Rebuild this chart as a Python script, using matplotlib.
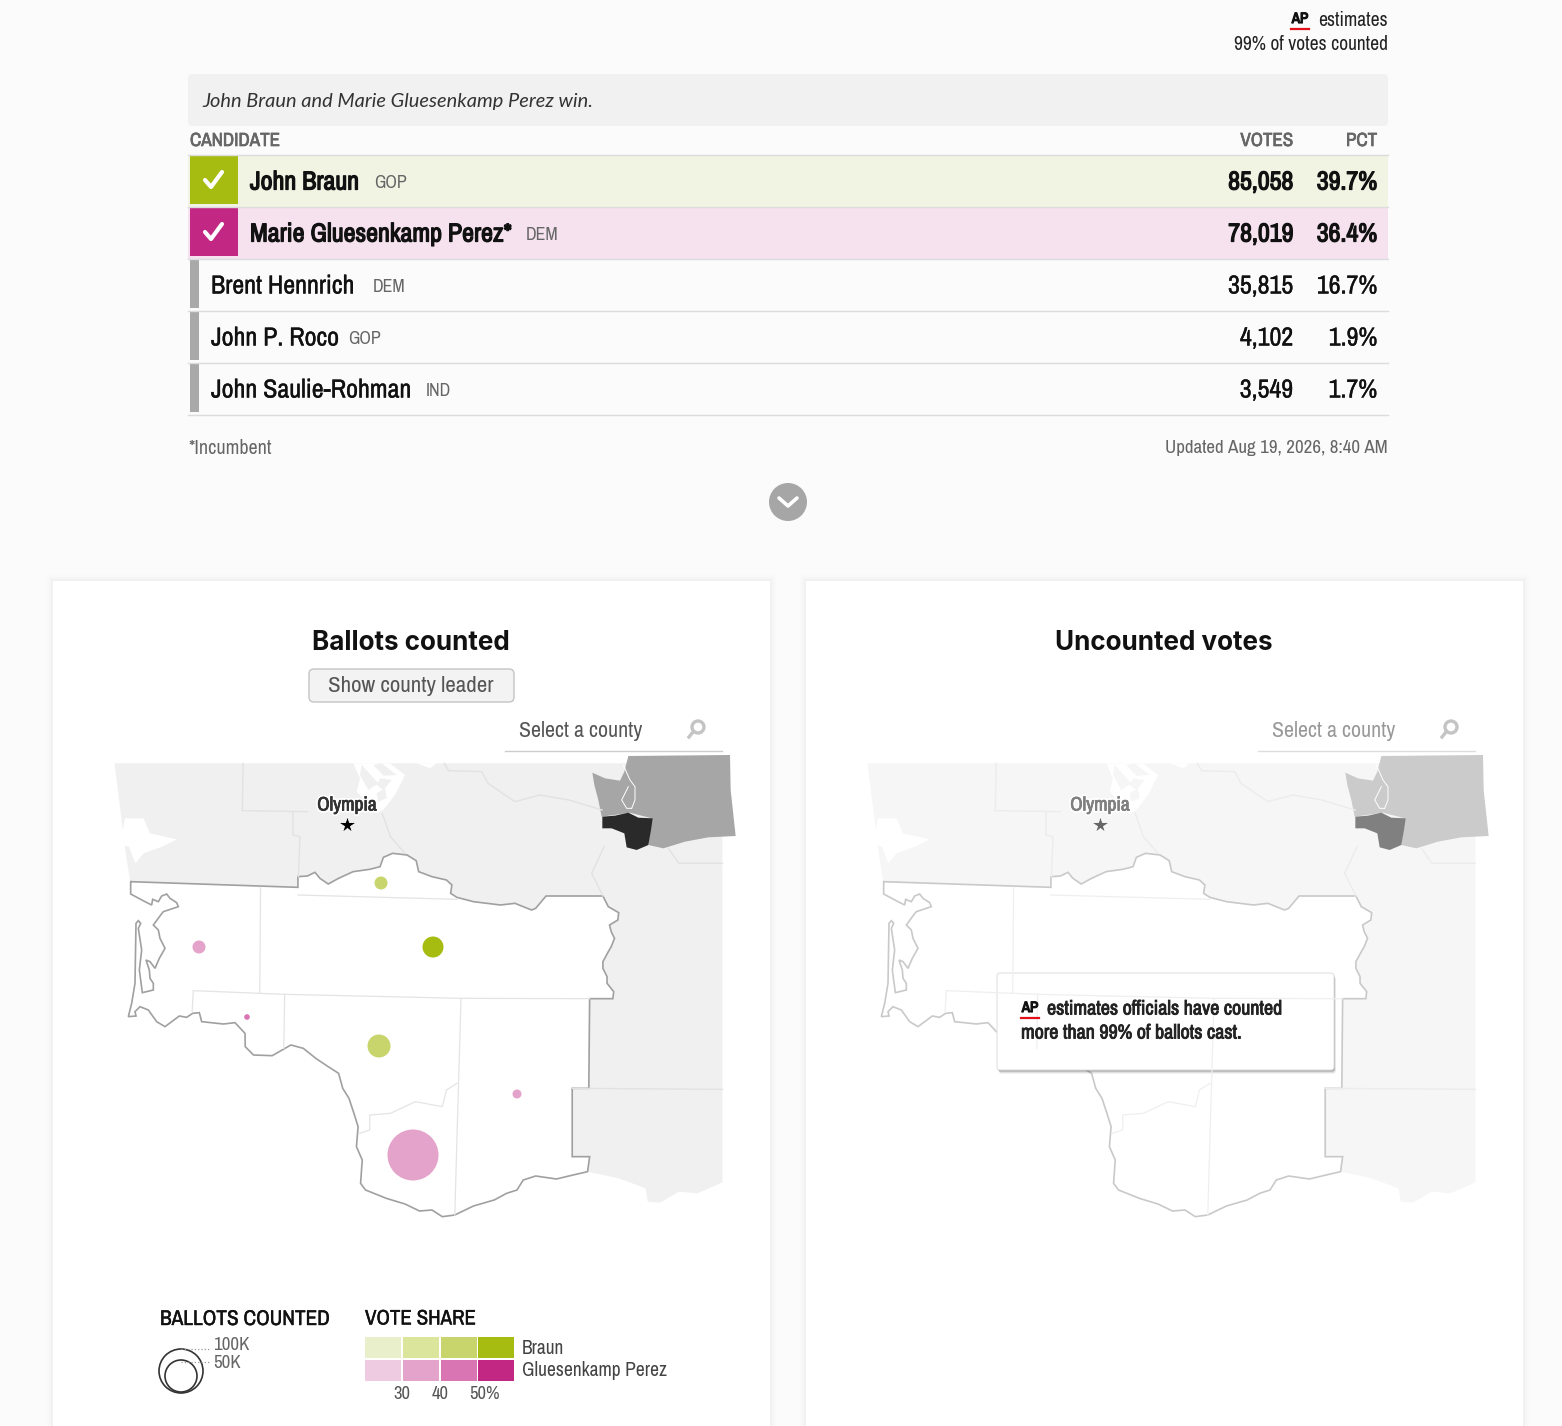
import matplotlib
matplotlib.use('Agg')
import matplotlib.pyplot as plt
import matplotlib.patheffects as pe
from matplotlib.patches import Rectangle, FancyBboxPatch, Polygon, Circle

NARROW = ['Archivo Narrow', 'Roboto Condensed', 'Liberation Sans Narrow', 'Roboto', 'DejaVu Sans']

# results table
candidates = ['John Braun', 'Marie Gluesenkamp Perez*', 'Brent Hennrich', 'John P. Roco', 'John Saulie-Rohman']
parties = ['GOP', 'DEM', 'DEM', 'GOP', 'IND']
votes = ['85,058', '78,019', '35,815', '4,102', '3,549']
pcts = ['39.7%', '36.4%', '16.7%', '1.9%', '1.7%']
party_x = [374, 526, 373, 348, 426]
row_fill = ['#f1f4e3', '#f6e2ef', 'none', 'none', 'none']
row_mark = ['#a6bc10', '#c22783', '#a9a9a9', '#a9a9a9', '#a9a9a9']

# bubbles on the county map
bubble_x = [381, 433, 199, 247, 379, 517, 413]
bubble_y = [883, 947, 947, 1017, 1046, 1094, 1155]
bubble_r = [6.5, 10.5, 6.5, 2.8, 11.5, 4.5, 25.5]
bubble_c = ['#c8d56c', '#a6bc10', '#e4a3ca', '#d975b2', '#c8d56c', '#e4a3ca', '#e4a3ca']

# legend
share_labels = ['30', '40', '50%']
braun_scale = ['#e8efca', '#dbe59c', '#c8d56c', '#a6bc10']
perez_scale = ['#efcbe2', '#e4a3ca', '#d975b2', '#c22783']

state_area = [(35, 40), (1500, 40), (1500, 1297), (1440, 1330), (1395, 1325), (1350, 1358), (1320, 1355), (1315, 1315),
              (1250, 1285), (1175, 1265), (700, 700), (73, 395), (62, 310), (48, 170)]
district_east = [(73, 395), (477, 412), (477, 380), (500, 378), (518, 367), (530, 385), (550, 402), (575, 385), (610, 365),
                 (650, 358), (675, 350), (683, 322), (705, 310), (740, 315), (762, 332), (768, 365), (800, 380), (835, 390),
                 (848, 405), (845, 430), (860, 442), (900, 455), (965, 465), (1000, 460), (1040, 480), (1050, 475),
                 (1075, 438), (1212, 438), (1225, 470), (1250, 488), (1248, 510), (1228, 525), (1232, 545), (1240, 565),
                 (1232, 590), (1225, 605), (1212, 635), (1212, 655), (1222, 680), (1222, 700), (1238, 725), (1236, 746),
                 (1180, 746), (1178, 1015), (1138, 1015), (1138, 1220), (1180, 1220), (1175, 1265), (1140, 1275), (1100, 1287),
                 (1050, 1278), (1020, 1290), (1005, 1320), (980, 1330), (950, 1350), (900, 1368), (855, 1395), (825, 1400),
                 (800, 1380), (770, 1383), (735, 1362), (690, 1345), (640, 1320), (628, 1300), (632, 1230), (618, 1190),
                 (622, 1130), (612, 1090), (600, 1045), (585, 1015), (575, 970), (550, 950), (520, 925), (490, 895), (460, 885),
                 (415, 917), (370, 915), (350, 890)]
district_west = [(375, 490), (345, 458), (310, 462), (245, 455), (238, 428), (218, 430), (200, 442), (178, 438), (135, 470),
                 (110, 455), (85, 420), (60, 410), (45, 425), (48, 438), (25, 440), (35, 400), (45, 340), (48, 160),
                 (55, 152), (62, 160), (55, 175), (65, 240), (58, 300), (67, 368), (100, 360), (100, 340), (90, 325),
                 (88, 300), (78, 270), (90, 275), (105, 295), (118, 265), (135, 235), (120, 205), (115, 180), (100, 165),
                 (122, 135), (130, 125), (175, 110), (170, 98), (150, 85), (140, 72), (125, 78), (115, 95), (98, 88),
                 (95, 105), (75, 95), (32, 72), (32, 35)]
inner_lines = [[(477, 435), (860, 448)], [(387, 412), (385, 730)], [(225, 722), (445, 733), (870, 745), (1180, 746)],
               [(225, 722), (222, 785)], [(445, 733), (443, 895)], [(870, 745), (855, 1395)],
               [(860, 1000), (835, 1020), (825, 1070), (760, 1055), (700, 1090), (650, 1095), (650, 1140), (625, 1150)]]
outer_lines = [[(345, 40), (343, 182), (500, 185)], [(465, 188), (465, 255), (482, 260), (478, 380)],
               [(680, 190), (700, 260), (735, 310)],
               [(830, 40), (840, 62), (920, 65), (935, 100), (1000, 155), (1060, 135), (1130, 150), (1210, 180)],
               [(1215, 290), (1185, 370), (1212, 438)], [(1370, 295), (1395, 340), (1500, 340)],
               [(1138, 1015), (1500, 1018)]]
bay = [(60, 205), (105, 205), (120, 250), (185, 268), (150, 290), (105, 310), (85, 340), (70, 290), (48, 285)]
sound = [(40, 25), (290, 25), (270, 40), (230, 25), (150, 25), (195, 60), (165, 120), (130, 165), (110, 175), (50, 110), (60, 70)]
sound_islands = [[(65, 30), (115, 85), (85, 105), (60, 60)], [(120, 70), (155, 75), (130, 105), (110, 90)],
                 [(110, 115), (135, 100), (140, 130), (115, 140)], [(125, 25), (170, 60), (130, 62), (100, 30)]]
inset_state = [(22, 68), (60, 85), (105, 92), (118, 65), (130, 18), (435, 15), (437, 120), (452, 258), (370, 262), (300, 275),
               (235, 295), (190, 285), (200, 205), (135, 188), (50, 200), (40, 150), (28, 105)]
inset_county = [(52, 200), (90, 197), (130, 188), (160, 203), (203, 205), (198, 240), (190, 285), (155, 300), (125, 292),
                (118, 250), (80, 235), (52, 235)]
inset_water = [[(115, 45), (135, 90), (150, 110), (150, 150), (140, 175)], [(130, 110), (110, 150), (125, 175), (140, 175)]]


def px(points, dx=0):
    # read on the big map crop, scaled 2.41 x 3
    return [(100 + x / 2.41 + dx, 750 + y / 3) for x, y in points]


def crop(points, x0, y0, dx=0):
    # read on a small crop, scaled 3 x 3
    return [(x0 + x / 3 + dx, y0 + y / 3) for x, y in points]


def txt(ax, x, y, s, size, color='#1a1a1a', ha='left', weight='normal', family=None, style='normal', heavy=0):
    # the narrow font has one weight only, so bold is a thin stroke of the same colour
    t = ax.text(x, y + 1, s, fontsize=size * 0.72, color=color, ha=ha, va='center', fontweight=weight,
                family=family or NARROW, fontstyle=style)
    if heavy:
        t.set_path_effects([pe.withStroke(linewidth=heavy, foreground=color)])
    return t


def ap_logo(ax, x, y):
    txt(ax, x, y - 1, 'AP', 15, '#111111', ha='center', heavy=0.9)
    ax.plot([x - 9, x + 9], [y + 10, y + 10], color='#e3101a', lw=1.6)


def search_box(ax, dx, color, line):
    txt(ax, 519 + dx, 730, 'Select a county', 22, color)
    ax.plot([505 + dx, 722 + dx], [751, 751], color=line, lw=1)
    ax.add_patch(Circle((698 + dx, 727), 6, fc='none', ec='#c4c4c4', lw=2.4))
    ax.plot([693 + dx, 689 + dx], [732, 737], color='#c4c4c4', lw=2.4)


def draw_map(ax, dx, faded):
    land = '#f6f6f6' if faded else '#f0f0f0'
    edge = '#c9c9c9' if faded else '#a0a0a0'
    thin = '#efefef' if faded else '#e4e4e4'
    ax.add_patch(Polygon(px(state_area, dx), fc=land, ec='none'))
    ax.add_patch(Polygon(px(bay, dx), fc='white', ec='none'))
    ax.add_patch(Polygon(crop(sound, 340, 755, dx), fc='white', ec='none'))
    for shape in sound_islands:
        ax.add_patch(Polygon(crop(shape, 340, 755, dx), fc=land, ec='none'))
    for line in outer_lines:
        ax.plot(*zip(*px(line, dx)), color='#ececec' if faded else '#e2e2e2', lw=1)
    outline = px(district_east, dx) + crop(district_west, 120, 870, dx)
    ax.add_patch(Polygon(outline, fc='white', ec=edge, lw=1.2))
    for line in inner_lines:
        ax.plot(*zip(*px(line, dx)), color=thin, lw=0.9)
    ax.add_patch(Polygon(crop(inset_state, 585, 750, dx), fc='#cbcbcb' if faded else '#a6a6a6', ec='none'))
    for line in inset_water:
        ax.plot(*zip(*crop(line, 585, 750, dx)), color='white', lw=0.7)
    ax.add_patch(Polygon(crop(inset_county, 585, 750, dx), fc='#808080' if faded else '#2a2a2a', ec='none'))
    label = txt(ax, 347 + dx, 804, 'Olympia', 19.5, '#808080' if faded else '#333333', ha='center')
    label.set_path_effects([pe.withStroke(linewidth=3, foreground='white'),
                            pe.withStroke(linewidth=0.5, foreground='#808080' if faded else '#333333')])
    ax.plot(347 + dx, 825, marker='*', ms=13, color='#666666' if faded else 'black', mec='white', mew=0.6)


fig = plt.figure(figsize=(15.62, 14.26), dpi=100, facecolor='#fbfbfb')
ax = fig.add_axes([0, 0, 1, 1])
ax.set_xlim(0, 1562)
ax.set_ylim(1426, 0)
ax.axis('off')

# header
ap_logo(ax, 1300, 19)
txt(ax, 1388, 20, 'estimates', 19.5, '#222222', ha='right')
txt(ax, 1388, 44, '99% of votes counted', 19.5, '#222222', ha='right')
ax.add_patch(FancyBboxPatch((188, 74), 1200, 52, boxstyle='round,pad=0,rounding_size=4', fc='#f1f1f1', ec='none'))
txt(ax, 202, 100, 'John Braun and Marie Gluesenkamp Perez win.', 20, '#333333', family=['Lato', 'DejaVu Sans'], style='italic')

# table
txt(ax, 190, 140, 'CANDIDATE', 19, '#666666', heavy=0.5)
txt(ax, 1293, 140, 'VOTES', 19, '#666666', ha='right', heavy=0.5)
txt(ax, 1377, 140, 'PCT', 19, '#666666', ha='right', heavy=0.5)
for i, name in enumerate(candidates):
    top = 155 + 52 * i
    mid = top + 26
    if row_fill[i] != 'none':
        ax.add_patch(Rectangle((188, top), 1200, 52, fc=row_fill[i], ec='none'))
    ax.plot([188, 1388], [top - 0.5, top - 0.5], color='#dcdcdc', lw=1)
    bold = i < 2
    heavy = 0.9 if bold else 0.25
    if bold:
        ax.add_patch(Rectangle((190, top + 1), 48, 48, fc=row_mark[i], ec='none'))
        ax.plot([205, 211, 222], [mid - 1, mid + 6, mid - 9], color='white', lw=3, solid_capstyle='round')
    else:
        ax.add_patch(Rectangle((190, top + 1), 9, 48, fc=row_mark[i], ec='none'))
    txt(ax, 250 if bold else 211, mid, name, 26, '#111111', heavy=heavy)
    txt(ax, party_x[i], mid + 1, parties[i], 18, '#666666')
    txt(ax, 1293, mid, votes[i], 26, '#111111', ha='right', heavy=heavy)
    txt(ax, 1377, mid, pcts[i], 26, '#111111', ha='right', heavy=heavy)
ax.plot([188, 1388], [414.5, 414.5], color='#dcdcdc', lw=1)
txt(ax, 188, 447, '*Incumbent', 20, '#666666')
txt(ax, 1388, 447, 'Updated Aug 19, 2026, 8:40 AM', 19, '#666666', ha='right')
ax.add_patch(Circle((788, 502), 19, fc='#a6a6a6', ec='none'))
ax.plot([779, 788, 797], [498, 506, 498], color='white', lw=2.6, solid_capstyle='round')

# the two cards
for x0, x1 in [(53, 770), (806, 1523)]:
    for k, alpha in [(6, 0.008), (4, 0.012), (2, 0.02)]:
        ax.add_patch(Rectangle((x0 - k, 581 - k), x1 - x0 + 2 * k, 860, fc='black', alpha=alpha, ec='none'))
    ax.add_patch(Rectangle((x0, 581), x1 - x0, 860, fc='white', ec='none'))

title_font = ['Inter', 'Roboto', 'DejaVu Sans']
txt(ax, 411, 642, 'Ballots counted', 26, '#111111', ha='center', weight='bold', family=title_font)
txt(ax, 1164, 642, 'Uncounted votes', 26, '#111111', ha='center', weight='bold', family=title_font)
ax.add_patch(FancyBboxPatch((309, 669), 205, 33, boxstyle='round,pad=0,rounding_size=5', fc='#f3f3f3', ec='#c4c4c4', lw=1))
txt(ax, 411, 685, 'Show county leader', 23, '#555555', ha='center')

draw_map(ax, 0, False)
draw_map(ax, 753, True)
search_box(ax, 0, '#555555', '#cccccc')
search_box(ax, 753, '#999999', '#dddddd')

for x, y, r, c in zip(bubble_x, bubble_y, bubble_r, bubble_c):
    ax.add_patch(Circle((x, y), r, fc=c, ec='none'))

# note on the right map
for k, alpha in [(4, 0.05), (3, 0.08), (2, 0.14), (1, 0.2)]:
    ax.add_patch(FancyBboxPatch((997 + k / 2, 973 + k), 337, 97, boxstyle='round,pad=0,rounding_size=3', fc='black', alpha=alpha, ec='none'))
ax.add_patch(FancyBboxPatch((997, 973), 337, 97, boxstyle='round,pad=0,rounding_size=3', fc='white', ec='#e2e2e2', lw=0.8))
ap_logo(ax, 1030, 1008)
txt(ax, 1047, 1008, 'estimates officials have counted', 20, '#222222', heavy=0.6)
txt(ax, 1021, 1032, 'more than 99% of ballots cast.', 20, '#222222', heavy=0.6)

# legend
txt(ax, 160, 1318, 'BALLOTS COUNTED', 21.3, '#111111', heavy=0.3)
ax.add_patch(Circle((181, 1371), 22, fc='none', ec='#333333', lw=1.2))
ax.add_patch(Circle((181, 1376), 16, fc='none', ec='#333333', lw=1.2))
ax.plot([181, 210], [1349, 1349], color='#999999', lw=0.9, ls=':')
ax.plot([181, 210], [1362, 1362], color='#999999', lw=0.9, ls=':')
txt(ax, 213, 1344, '100K', 19, '#666666')
txt(ax, 213, 1362, '50K', 19, '#666666')
txt(ax, 365, 1318, 'VOTE SHARE', 21, '#111111', heavy=0.3)
swatch_x = [365, 403, 441, 478]
for x, c1, c2 in zip(swatch_x, braun_scale, perez_scale):
    ax.add_patch(Rectangle((x, 1337), 36, 21, fc=c1, ec='none'))
    ax.add_patch(Rectangle((x, 1360), 36, 21, fc=c2, ec='none'))
for x, s in zip([402, 440, 484], share_labels):
    txt(ax, x, 1393, s, 18.5, '#555555', ha='center')
txt(ax, 522, 1347, 'Braun', 19.5, '#444444')
txt(ax, 522, 1370, 'Gluesenkamp Perez', 19.5, '#444444')

fig.savefig('out.png', dpi=100, facecolor=fig.get_facecolor())
